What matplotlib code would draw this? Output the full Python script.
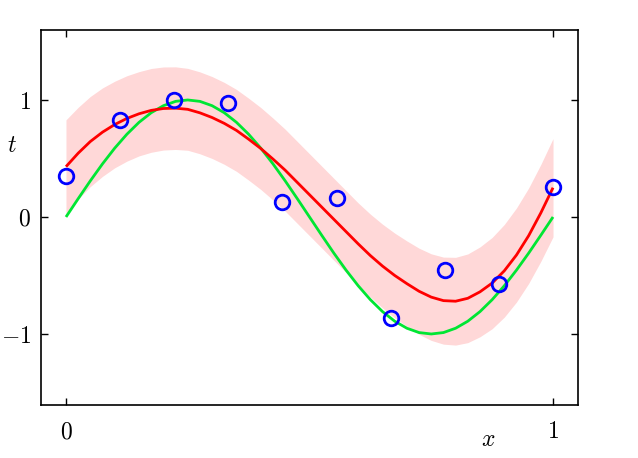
import matplotlib
matplotlib.use("Agg")
import matplotlib.pyplot as plt
import numpy as np

plt.rcParams['mathtext.fontset'] = 'cm'
plt.rcParams['font.family'] = ['DejaVu Serif']

# observed data points
x_data = [0.0, 1/9, 2/9, 3/9, 4/9, 5/9, 6/9, 7/9, 8/9, 1.0]
t_data = [0.35, 0.83, 1.00, 0.97, 0.13, 0.16, -0.86, -0.45, -0.57, 0.26]

# curve grid (step 0.025)
x_grid = [0.000, 0.025, 0.050, 0.075, 0.100, 0.125, 0.150, 0.175, 0.200, 0.225,
          0.250, 0.275, 0.300, 0.325, 0.350, 0.375, 0.400, 0.425, 0.450, 0.475,
          0.500, 0.525, 0.550, 0.575, 0.600, 0.625, 0.650, 0.675, 0.700, 0.725,
          0.750, 0.775, 0.800, 0.825, 0.850, 0.875, 0.900, 0.925, 0.950, 0.975,
          1.000]
# predictive mean (red)
mean_vals = [0.43, 0.545, 0.645, 0.725, 0.79, 0.842, 0.882, 0.911, 0.927, 0.93,
             0.92, 0.89, 0.85, 0.80, 0.74, 0.665, 0.585, 0.495, 0.40, 0.295,
             0.19, 0.085, -0.02, -0.125, -0.23, -0.33, -0.42, -0.50, -0.57, -0.635,
             -0.685, -0.715, -0.72, -0.695, -0.64, -0.565, -0.46, -0.325, -0.16, 0.035,
             0.25]
# predictive std (pink band half-width)
std_vals = [0.40, 0.392, 0.385, 0.378, 0.37, 0.365, 0.36, 0.358, 0.355, 0.353,
            0.35, 0.35, 0.35, 0.35, 0.35, 0.35, 0.35, 0.35, 0.35, 0.35,
            0.35, 0.35, 0.35, 0.35, 0.35, 0.354, 0.358, 0.362, 0.365, 0.368,
            0.37, 0.372, 0.375, 0.379, 0.384, 0.39, 0.396, 0.402, 0.408, 0.414,
            0.42]
# true function (green)
true_vals = [0.0, 0.156, 0.309, 0.454, 0.588, 0.707, 0.809, 0.891, 0.951, 0.988,
             1.0, 0.988, 0.951, 0.891, 0.809, 0.707, 0.588, 0.454, 0.309, 0.156,
             0.0, -0.156, -0.309, -0.454, -0.588, -0.707, -0.809, -0.891, -0.951, -0.988,
             -1.0, -0.988, -0.951, -0.891, -0.809, -0.707, -0.588, -0.454, -0.309, -0.156,
             0.0]

x_ticks = [0, 1]
x_ticklabels = [r'$0$', r'$1$']
y_ticks = [-1, 0, 1]
y_ticklabels = [r'$-1$', r'$0$', r'$1$']

fig = plt.figure(figsize=(6.38, 4.58), dpi=100)
ax = fig.add_axes([41/638, 53/458, 537/638, 375/458])

xg = np.array(x_grid)
m = np.array(mean_vals)
s = np.array(std_vals)
ax.fill_between(xg, m - s, m + s, color='#FFD8D8', lw=0, zorder=1)
ax.plot(xg, true_vals, color='#00E633', lw=2.0, zorder=2, solid_capstyle='butt')
ax.plot(xg, m, color='#FF0000', lw=2.0, zorder=3, solid_capstyle='butt')
ax.plot(x_data, t_data, 'o', ms=10.5, mfc='none', mec='#0000FF', mew=2.0, zorder=4)

ax.set_xlim(-0.0513, 1.0513)
ax.set_ylim(-1.607, 1.598)
ax.set_xticks(x_ticks)
ax.set_xticklabels(x_ticklabels)
ax.set_yticks(y_ticks)
ax.set_yticklabels(y_ticklabels)
ax.tick_params(direction='in', length=5, width=1, top=True, right=True,
               labelsize=17)
ax.tick_params(axis='x', pad=11)
ax.tick_params(axis='y', pad=7)
for sp in ax.spines.values():
    sp.set_linewidth(1.2)

ax.text(0.832, -0.093, r'$x$', transform=ax.transAxes, ha='center', va='center', fontsize=17)
ax.text(-0.054, 0.693, r'$t$', transform=ax.transAxes, ha='center', va='center', fontsize=17)

fig.savefig('out.png', dpi=100)
